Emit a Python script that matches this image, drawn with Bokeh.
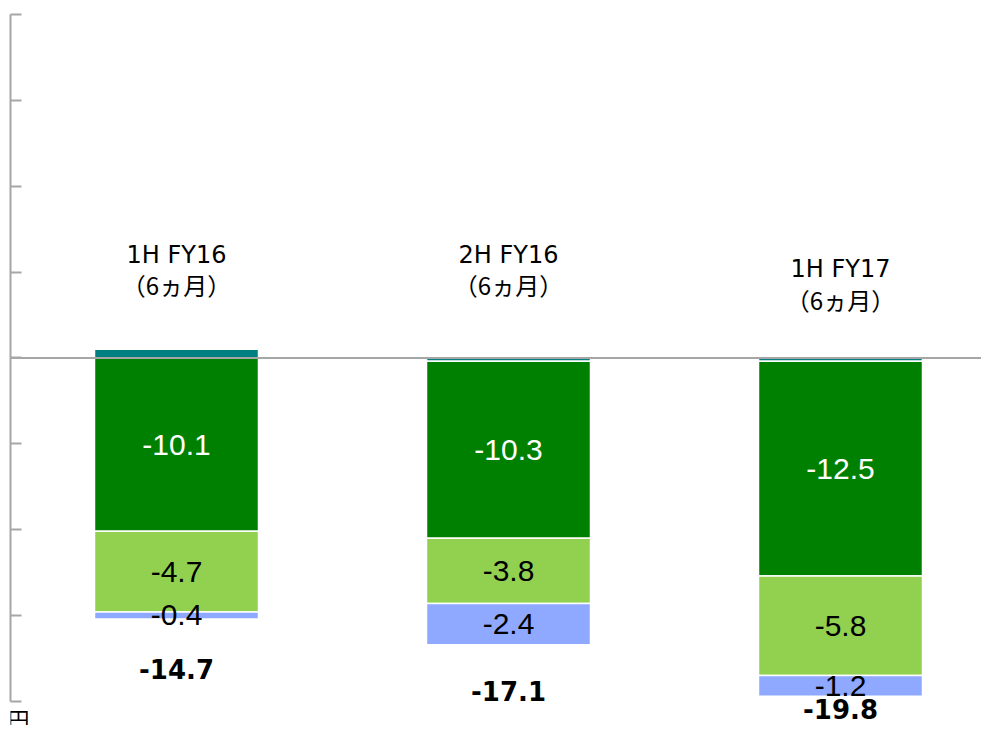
from bokeh.plotting import figure
from bokeh.models import Range1d, LinearAxis, FixedTicker, Span, ColumnDataSource, Label
from bokeh.core.properties import value
from bokeh.embed import file_html
from bokeh.resources import INLINE

# ---- data ----
categories = ["1H FY16", "2H FY16", "1H FY17"]
period_label = ["（6ヵ月）", "（6ヵ月）", "（6ヵ月）"]
teal_vals = [0.5, -0.2, -0.2]
dark_green_vals = [-10.1, -10.3, -12.5]
light_green_vals = [-4.7, -3.8, -5.8]
blue_vals = [-0.4, -2.4, -1.2]
totals = [-14.7, -17.1, -19.8]
y_ticks = [-20, -15, -10, -5, 0, 5, 10, 15, 20]
unit_label = "億円"

# ---- label placement (data units) ----
cat_line1_y = [6.0, 6.0, 5.2]
cat_line2_y = [4.3, 4.3, 3.4]
total_label_y = [-18.1, -19.4, -20.45]

series = [
    ("teal", teal_vals, "#008080", None),
    ("dark_green", dark_green_vals, "#008000", "white"),
    ("light_green", light_green_vals, "#92D050", "black"),
    ("blue", blue_vals, "#8EA9FF", "black"),
]

xs = [i + 0.5 for i in range(len(categories))]

p = figure(width=981, height=725,
           x_range=Range1d(0, 971 / 332), y_range=Range1d(-21.41, 20),
           x_axis_location=None, y_axis_location=None,
           toolbar_location=None, output_backend="svg",
           min_border_left=10, min_border_right=0, min_border_top=14, min_border_bottom=0,
           outline_line_color=None)
p.grid.visible = False

pos_base = [0.0] * len(xs)
neg_base = [0.0] * len(xs)
for name, vals, color, lab_color in series:
    bottoms, tops = [], []
    for i, v in enumerate(vals):
        if v >= 0:
            b, t = pos_base[i], pos_base[i] + v
            pos_base[i] = t
        else:
            b, t = neg_base[i] + v, neg_base[i]
            neg_base[i] = b
        bottoms.append(b)
        tops.append(t)
    src = ColumnDataSource(dict(x=xs, top=tops, bottom=bottoms,
                                mid=[(a + b) / 2 for a, b in zip(tops, bottoms)],
                                lab=[f"{v:.1f}" for v in vals]))
    p.vbar(x="x", top="top", bottom="bottom", width=0.494, source=src,
           fill_color=color, line_color="white", line_width=1.5)
    if lab_color is not None:
        p.text(x="x", y="mid", text="lab", source=src, text_align="center",
               text_baseline="middle", text_color=lab_color,
               text_font=value("Liberation Sans"), text_font_size="30px")

zero = Span(location=0, dimension="width", line_color="#A6A6A6", line_width=2)
p.add_layout(zero)

yaxis = LinearAxis(ticker=FixedTicker(ticks=y_ticks), bounds=(-20, 20),
                   major_label_text_font_size="0px", major_label_text_color=None,
                   major_label_standoff=0,
                   major_tick_in=11, major_tick_out=0,
                   minor_tick_in=0, minor_tick_out=0,
                   axis_line_color="#A6A6A6", axis_line_width=2,
                   major_tick_line_color="#A6A6A6", major_tick_line_width=2)
p.add_layout(yaxis, "left")

p.text(x=xs, y=cat_line1_y, text=categories, text_align="center",
       text_baseline="middle", text_color="black",
       text_font=value("DejaVu Sans"), text_font_size="24px")
p.text(x=xs, y=cat_line2_y, text=period_label, text_align="center",
       text_baseline="middle", text_color="black",
       text_font=value("Noto Sans CJK JP"), text_font_size="24px")

p.text(x=xs, y=total_label_y, text=[f"{t:.1f}" for t in totals],
       text_align="center", text_baseline="middle", text_color="black",
       text_font=value("DejaVu Sans"), text_font_style="bold",
       text_font_size="26px")

p.add_layout(Label(x=0.057, y=-20.05, text=unit_label, text_align="right",
                   text_baseline="top", text_color="black",
                   text_font="Noto Sans CJK JP", text_font_size="22px"))

open("out.html", "w").write(file_html(p, INLINE))
